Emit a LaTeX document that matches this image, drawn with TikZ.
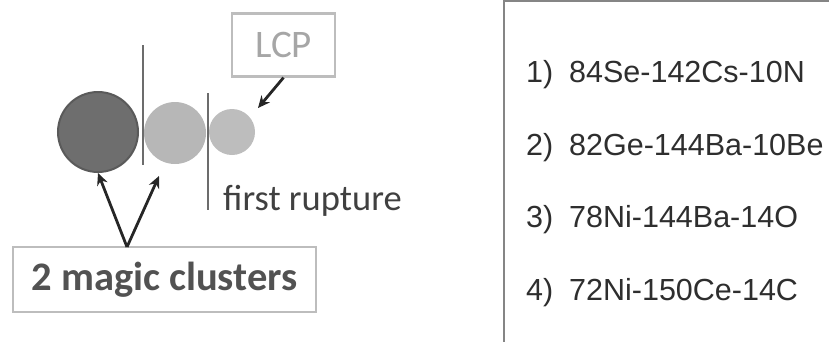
\documentclass[tikz,border=0pt]{standalone}
\usepackage{fontspec}
\setmainfont{Liberation Sans}
\newfontfamily\calibri{Carlito}
\usepackage{xcolor}
\usetikzlibrary{arrows.meta}

\definecolor{darkball}{HTML}{6E6E6E}
\definecolor{darkrim}{HTML}{5A5A5A}
\definecolor{midball}{HTML}{B7B7B7}
\definecolor{smallball}{HTML}{BDBDBD}
\definecolor{cutline}{HTML}{6C6C6C}
\definecolor{boxline}{HTML}{BDBDBD}

\begin{document}
\begin{tikzpicture}[x=1pt,y=-1pt]
	\tikzstyle{ball} = [circle, inner sep=0pt]
	\tikzstyle{cut} = [draw=cutline, line width=2.8pt]
	\tikzstyle{pointer} = [draw=black!85, line width=2.8pt, -{Stealth[length=12pt,width=11pt]}]
	\tikzstyle{labelbox} = [draw=boxline, line width=2.2pt, inner sep=0pt]
	\tikzstyle{channel} = [anchor=west, inner sep=0pt, text=black!82, font=\fontsize{30.5}{34}\selectfont]
	\useasboundingbox (0,0) rectangle (829,341);
	% clusters
		\node[ball, fill=darkball, draw=darkrim, line width=2pt, minimum size=80pt] (big) at (98,132) {};
		\node[ball, fill=midball, minimum size=62pt] (mid) at (175,133) {};
		\node[ball, fill=smallball, minimum size=46pt] (small) at (232,132) {};
	% ruptures
	\draw[cut] (143,45) -- (143,165);
	\draw[cut] (208,93) -- (208,210);
	% labels
		\node[labelbox, minimum width=103pt, minimum height=63pt, text=black!35, font=\calibri\fontsize{39}{42}\selectfont] (lcp) at (283.5,45) {LCP};
		\node[anchor=west, inner sep=0pt, text=black!75, font=\calibri\fontsize{36.5}{40}\selectfont] (rupture) at (223,201) {first rupture};
		\node[labelbox, minimum width=303pt, minimum height=65pt, text=black!68, font=\calibri\bfseries\fontsize{40.5}{44}\selectfont] (magic) at (164.5,279.5) {2 magic clusters};
	\coordinate (split) at (127,247);
	\coordinate (midtip) at (159,176);
	\coordinate (lcptip) at (258,108);
	\draw[pointer] (split) -- (big.south);
	\draw[pointer] (split) -- (midtip);
	\draw[pointer] (lcp.south) -- (lcptip);
	% channels
	\begin{scope}
		\clip (0,0) rectangle (829,341);
		\draw[draw=black!48, line width=2.8pt] (504,360) -- (504,1) -- (850,1);
	\end{scope}
		\node[channel] (ch1) at (526,75)  {1)\hspace{0.52em}84Se-142Cs-10N};
		\node[channel] (ch2) at (526,148) {2)\hspace{0.52em}82Ge-144Ba-10Be};
		\node[channel] (ch3) at (526,220) {3)\hspace{0.52em}78Ni-144Ba-14O};
		\node[channel] (ch4) at (526,293) {4)\hspace{0.52em}72Ni-150Ce-14C};
\end{tikzpicture}
\end{document}
